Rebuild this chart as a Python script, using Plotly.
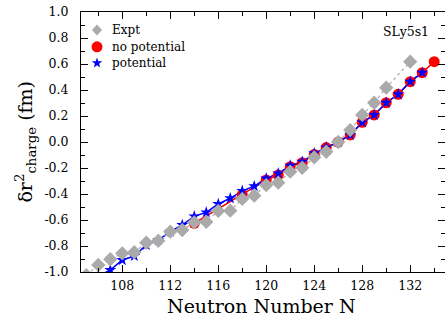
import math
import plotly.graph_objects as go

# Charge-radius shifts along the isotopic chain (fm)
n_expt = [105, 106, 107, 108, 109, 110, 111, 112, 113, 114, 115, 116, 117, 118,
          119, 120, 121, 122, 123, 124, 125, 126, 127, 128, 129, 130, 132]
r2_expt = [-1.025, -0.946, -0.902, -0.856, -0.848, -0.775, -0.760, -0.690, -0.677,
           -0.618, -0.615, -0.530, -0.528, -0.438, -0.413, -0.331, -0.313, -0.228,
           -0.198, -0.118, -0.075, 0.000, 0.092, 0.208, 0.302, 0.418, 0.618]

n_nopot = [114, 118, 120, 121, 122, 123, 124, 125, 126, 127, 128, 129, 130, 131,
           132, 133, 134]
r2_nopot = [-0.625, -0.405, -0.292, -0.254, -0.190, -0.159, -0.096, -0.043, 0.000,
            0.054, 0.151, 0.208, 0.302, 0.367, 0.464, 0.533, 0.618]

n_pot = [106, 107, 108, 109, 110, 111, 112, 113, 114, 115, 116, 117, 118, 119,
         120, 121, 122, 123, 124, 125, 126, 127, 128, 129, 130, 131, 132, 133]
r2_pot = [-1.030, -0.985, -0.908, -0.877, -0.792, -0.754, -0.690, -0.638, -0.572,
          -0.541, -0.477, -0.433, -0.376, -0.340, -0.280, -0.241, -0.182, -0.152,
          -0.087, -0.041, 0.000, 0.054, 0.151, 0.208, 0.302, 0.367, 0.464, 0.533]

x_ticks = [108, 112, 116, 120, 124, 128, 132]
x_labels = ["108", "112", "116", "120", "124", "128", "132"]
y_ticks = [-1.0, -0.8, -0.6, -0.4, -0.2, 0.0, 0.2, 0.4, 0.6, 0.8, 1.0]
y_labels = ["-1.0", "-0.8", "-0.6", "-0.4", "-0.2", "0.0", "0.2", "0.4", "0.6", "0.8", "1.0"]

legend_names = ["Expt", "no potential", "potential"]

SERIF = "DejaVu Serif"
GRAY = "#aaaaaa"
RED = "#ff0000"
BLUE = "#0000ff"

fig = go.Figure()

# connecting lines
fig.add_trace(go.Scatter(x=n_nopot, y=r2_nopot, mode="lines",
                         line=dict(color=RED, width=1.5), hoverinfo="skip"))
fig.add_trace(go.Scatter(x=n_pot, y=r2_pot, mode="lines",
                         line=dict(color=BLUE, width=1.5), hoverinfo="skip"))
fig.add_trace(go.Scatter(x=n_expt, y=r2_expt, mode="lines",
                         line=dict(color=GRAY, width=1.2, dash="dot"), hoverinfo="skip"))

# markers
fig.add_trace(go.Scatter(x=n_nopot, y=r2_nopot, mode="markers", name=legend_names[1],
                         marker=dict(symbol="circle", size=11, color=RED)))
fig.add_trace(go.Scatter(x=n_pot, y=r2_pot, mode="markers", name=legend_names[2],
                         marker=dict(symbol="star", size=9, color=BLUE)))
fig.add_trace(go.Scatter(x=n_expt, y=r2_expt, mode="markers", name=legend_names[0],
                         marker=dict(symbol="diamond", size=11, color=GRAY)))

# hand-placed legend: pixel-sized symbols anchored in paper space
leg_x_sym = 0.044
leg_x_txt = 0.080
leg_y = [0.931, 0.866, 0.804]


def star_path(r_out, r_in):
    pts = []
    for k in range(10):
        r = r_out if k % 2 == 0 else r_in
        a = math.pi / 2 + k * math.pi / 5
        pts.append((r * math.cos(a), r * math.sin(a)))
    return "M " + " L ".join(f"{px:.2f},{py:.2f}" for px, py in pts) + " Z"


sym_common = dict(xref="paper", yref="paper", xsizemode="pixel", ysizemode="pixel",
                  xanchor=leg_x_sym, line=dict(width=0))
fig.add_shape(type="path", path="M 0,5.5 L 5,0 L 0,-5.5 L -5,0 Z",
              yanchor=leg_y[0], fillcolor=GRAY, **sym_common)
fig.add_shape(type="circle", x0=-5.5, x1=5.5, y0=-5.5, y1=5.5,
              yanchor=leg_y[1], fillcolor=RED, **sym_common)
fig.add_shape(type="path", path=star_path(5.5, 2.2),
              yanchor=leg_y[2], fillcolor=BLUE, **sym_common)
for name, yy in zip(legend_names, leg_y):
    fig.add_annotation(text=name, xref="paper", yref="paper", x=leg_x_txt, y=yy,
                       xanchor="left", yanchor="middle", showarrow=False,
                       font=dict(family=SERIF, size=12, color="black"))

fig.add_annotation(text="SLy5s1", xref="paper", yref="paper", x=0.962, y=0.925,
                   xanchor="right", yanchor="middle", showarrow=False,
                   font=dict(family=SERIF, size=12.5, color="black"))

# axis titles
fig.add_annotation(text="Neutron Number N", xref="paper", yref="paper",
                   x=0.497, y=-0.13, xanchor="center", yanchor="middle",
                   showarrow=False, font=dict(family=SERIF, size=19, color="black"))
fig.add_annotation(text="δr<sup>2</sup><sub>charge</sub> (fm)", xref="paper", yref="paper",
                   x=-0.155, y=0.5, xanchor="center", yanchor="middle", textangle=-90,
                   showarrow=False, font=dict(family=SERIF, size=19, color="black"))

axis_common = dict(showline=True, linecolor="black", linewidth=1, mirror="ticks",
                   ticks="inside", ticklen=7, tickwidth=1, tickcolor="black",
                   showgrid=False, zeroline=False,
                   tickfont=dict(family=SERIF, size=12.5, color="black"))

fig.update_xaxes(range=[104.56, 134.9], tickmode="array", tickvals=x_ticks,
                 ticktext=x_labels, ticklabelstandoff=2,
                 minor=dict(dtick=2, tick0=0, ticks="inside", ticklen=4,
                            tickcolor="black", showgrid=False),
                 **axis_common)
fig.update_yaxes(range=[-1.0, 1.0], tickmode="array", tickvals=y_ticks,
                 ticktext=y_labels, ticklabelstandoff=9,
                 minor=dict(dtick=0.1, tick0=0, ticks="inside", ticklen=4,
                            tickcolor="black", showgrid=False),
                 **axis_common)

fig.update_layout(
    width=445, height=320,
    margin=dict(l=81, r=0, t=12, b=48),
    plot_bgcolor="white", paper_bgcolor="white",
    showlegend=False,
    font=dict(family=SERIF),
)

fig.write_html("out.html")
